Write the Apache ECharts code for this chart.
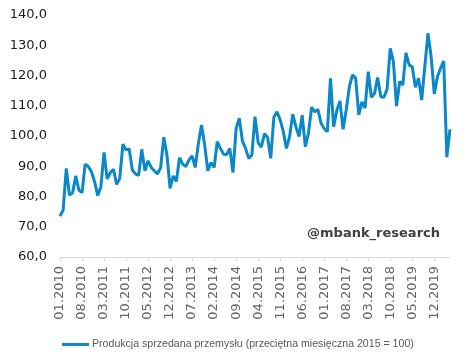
<!DOCTYPE html>
<html>
<head>
<meta charset="utf-8">
<script src="https://cdn.jsdelivr.net/npm/echarts@6/dist/echarts.min.js"></script>
<style>html,body{margin:0;padding:0;background:#fff}#c{width:466px;height:360px}</style>
</head>
<body>
<div id="c"></div>
<script>
// Monthly categories 01.2010 .. 05.2020
const startYear = 2010;
const months = [];
for (let i = 0; i < 125; i++) {
  const y = startYear + Math.floor(i / 12);
  const m = (i % 12) + 1;
  months.push((m < 10 ? '0' + m : '' + m) + '.' + y);
}
const seriesName = 'Produkcja sprzedana przemysłu (przeciętna miesięczna 2015 = 100)';
const values = [
  73.5, 75.5, 89.3, 80.5, 81.2, 86.8, 82.1, 81.3, 90.7, 89.9, 88.2, 84.9,
  80.3, 83.2, 94.6, 85.8, 87.9, 89.0, 84.0, 86.0, 97.3, 95.4, 95.7, 88.8,
  87.5, 87.0, 95.6, 88.5, 91.8, 89.6, 88.5, 87.5, 89.5, 99.6, 93.7, 82.7,
  86.8, 85.0, 92.8, 90.7, 89.9, 92.1, 93.4, 89.6, 97.5, 103.6, 97.0, 88.5,
  91.2, 89.6, 98.1, 95.9, 94.0, 93.9, 95.9, 87.9, 102.5, 105.9, 98.3, 95.9,
  92.6, 93.7, 106.4, 97.8, 96.3, 100.7, 99.6, 92.6, 106.2, 108.0, 105.3, 101.5,
  95.9, 99.8, 107.2, 103.1, 99.8, 106.9, 96.5, 100.9, 109.5, 108.0, 108.8, 104.2,
  102.5, 101.4, 119.1, 103.1, 108.4, 111.6, 102.2, 108.6, 116.3, 120.2, 119.1, 107.0,
  111.3, 109.2, 121.3, 112.8, 114.1, 119.3, 113.0, 112.8, 115.5, 129.0, 124.6, 109.9,
  118.0, 116.9, 127.5, 123.5, 122.9, 116.1, 119.1, 111.9, 123.0, 134.0, 126.2, 113.9,
  119.6, 122.4, 124.8, 93.0, 102.2
];
const yTicks = [60, 70, 80, 90, 100, 110, 120, 130, 140];
const watermark = '@mbank_research';

const chart = echarts.init(document.getElementById('c'), null, {renderer: 'canvas'});
chart.setOption({
  animation: false,
  grid: {left: 60, right: 16, top: 15, bottom: 103, containLabel: false},
  xAxis: {
    type: 'category',
    data: months,
    boundaryGap: false,
    axisLine: {lineStyle: {color: '#d9d9d9', width: 1}},
    axisTick: {interval: 6, length: 4, lineStyle: {color: '#d9d9d9'}},
    axisLabel: {
      interval: 6, rotate: 90, margin: 9,
      color: '#666666', fontFamily: 'DejaVu Sans', fontSize: 13
    }
  },
  yAxis: {
    type: 'value',
    min: yTicks[0], max: yTicks[yTicks.length - 1], interval: 10,
    splitLine: {show: false},
    axisLine: {show: false},
    axisTick: {show: false},
    axisLabel: {
      margin: 13,
      color: '#1a1a1a', fontFamily: 'DejaVu Sans', fontSize: 13,
      formatter: v => v.toFixed(1).replace('.', ',')
    }
  },
  legend: {
    left: 57, top: 334,
    itemWidth: 27, itemHeight: 3, itemGap: 3,
    icon: 'rect',
    textStyle: {color: '#595959', fontFamily: 'Liberation Sans', fontSize: 10.6, padding: [0, 0, 0, -2]},
    data: [seriesName]
  },
  graphic: [{
    type: 'text',
    right: 26, top: 227,
    style: {text: watermark, fill: '#404040', font: 'bold 13px "DejaVu Sans"'}
  }],
  series: [{
    name: seriesName,
    type: 'line',
    data: values,
    showSymbol: false,
    symbol: 'none',
    lineStyle: {color: '#0a88c9', width: 3},
    itemStyle: {color: '#0a88c9'}
  }]
});
</script>
</body>
</html>
